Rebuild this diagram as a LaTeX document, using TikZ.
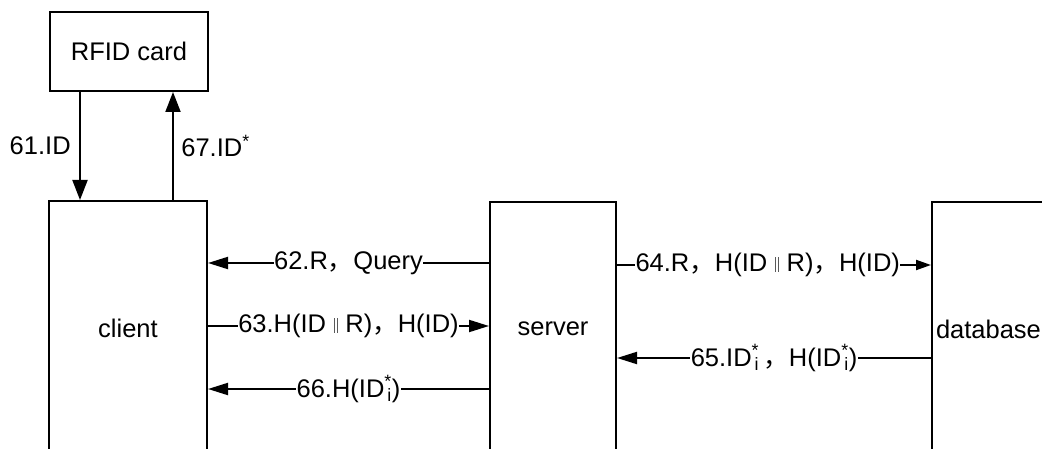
\documentclass[tikz,border=0pt]{standalone}
\usepackage{fontspec}
\setmainfont{Liberation Sans}
\newfontfamily\cjk{Noto Sans CJK SC}
\usetikzlibrary{arrows.meta}
% full-width comma and the concatenation bars
\newcommand\fc{{\cjk ，}}
\newcommand\cat{\hspace{0.3em}{\color{black!65}\rule{0.9pt}{15pt}\kern2.2pt\rule{0.9pt}{15pt}}\hspace{0.3em}}
% starred identifier with index i: star above, i below it
\newcommand\starI{\textsuperscript{*}\llap{\textsubscript{i}}}
\begin{document}
\begin{tikzpicture}[x=1pt,y=-1pt,
  font=\fontsize{25.5}{30}\selectfont,
  line width=2pt,
  box/.style={draw, rectangle, inner sep=0pt, line width=2pt},
  tall/.style={box, anchor=north, minimum height=254pt},
  arr/.style={-{Triangle[length=20pt,width=12pt]}, line width=2pt},
  varr/.style={-{Triangle[length=20pt,width=15pt]}, line width=2pt},
  small arr/.style={-{Triangle[length=15pt,width=10pt]}, line width=2pt},
  msg/.style={fill=white, inner xsep=0.5pt, inner ysep=1pt},
]
\useasboundingbox (0,0) rectangle (1042,449);
\clip (0,0) rectangle (1042,449);

% participants
\node[box, minimum width=158pt, minimum height=79pt, anchor=north west] (card) at (49,11) {RFID card};
\node[tall, minimum width=158pt] (client) at (128,200) {client};
\node[tall, minimum width=126pt] (server) at (553,201) {server};
\node[tall, minimum width=200pt, anchor=north west, text width=192pt, align=left, inner xsep=4pt] (db) at (931,201) {database};

% reference rows and columns
\coordinate (xa) at (80,0);
\coordinate (xb) at (173,0);
\coordinate (r62) at (0,263);
\coordinate (r63) at (0,326);
\coordinate (r66) at (0,389);
\coordinate (r64) at (0,265);
\coordinate (r65) at (0,358);

% card <-> client
\draw[varr] (card.south -| xa) -- node[anchor=east, xshift=-5pt] (l61) {61.ID} (client.north -| xa);
\draw[varr] (client.north -| xb) -- node[anchor=west, xshift=4pt] (l67) {67.ID\textsuperscript{*}} (card.south -| xb);

% client <-> server
\draw[arr] (server.west |- r62) -- node[msg] (l62) {62.R\fc Query} (client.east |- r62);
\draw[arr] (client.east |- r63) -- node[msg] (l63) {63.H(ID\cat R)\fc H(ID)} (server.west |- r63);
\draw[arr] (server.west |- r66) -- node[msg] (l66) {66.H(ID\starI)} (client.east |- r66);

% server <-> database
\draw[small arr] (server.east |- r64) -- node[msg, pos=0.48] (l64) {64.R\fc H(ID\cat R)\fc H(ID)} (db.west |- r64);
\draw[arr] (db.west |- r65) -- node[msg] (l65) {65.ID\starI\,\fc H(ID\starI)} (server.east |- r65);
\end{tikzpicture}
\end{document}
